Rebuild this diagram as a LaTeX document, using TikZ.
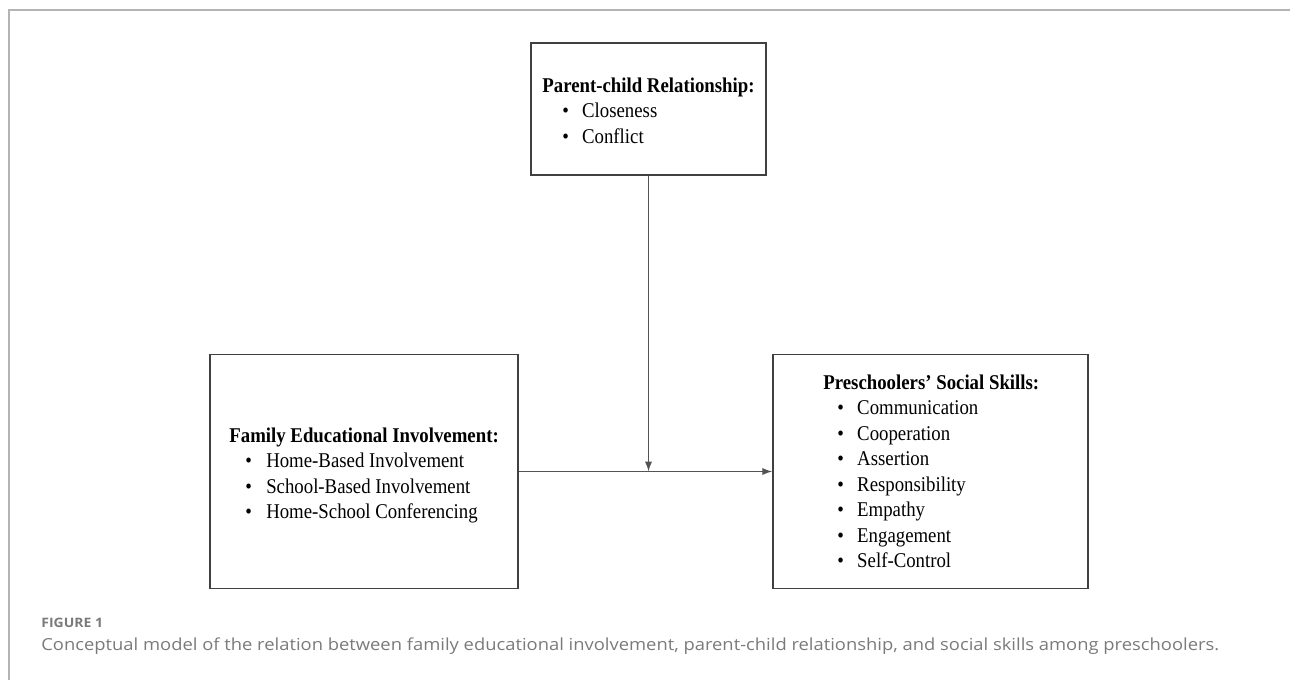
\documentclass[tikz,border=0pt]{standalone}
\usepackage{fontspec}
\setmainfont{Liberation Serif}
\newfontfamily\capfont{Open Sans}
\usetikzlibrary{arrows.meta}
\definecolor{framegray}{HTML}{B4B4B4}
\definecolor{boxgray}{HTML}{404040}
\definecolor{capgray}{HTML}{7A7A7A}
\newcommand{\bitem}[3]{\hbox{\hspace*{#1}\makebox[#2][l]{\textbullet}#3}}
\newcommand{\hsq}[1]{\scalebox{0.895}[1]{#1}}
\tikzset{
  box/.style={draw=boxgray, line width=0.75pt, inner sep=0pt, fill=white},
  txt/.style={anchor=base west, inner sep=0pt, font=\fontsize{10.5pt}{12.75pt}\selectfont},
  conn/.style={draw=boxgray!90, line width=0.6pt},
  arr/.style={-{Latex[length=5pt,width=3.6pt]}},
  frame/.style={draw=framegray, line width=1pt}
}
\begin{document}
\begin{tikzpicture}[x=0.5pt,y=-0.5pt]
\useasboundingbox (0,0) rectangle (1290,680);
% outer frame
\coordinate (ftl) at (9,10);
\coordinate (ftr) at (1290,10);
\coordinate (fbl) at (9,680);
\draw[frame] (fbl) -- (ftl) -- (ftr);
% boxes
\node[box, minimum width=117.5pt, minimum height=66pt] (pc) at (648.5,109) {};
\node[box, minimum width=154pt, minimum height=117pt] (fe) at (364,471.5) {};
\node[box, minimum width=157.5pt, minimum height=117pt] (ps) at (930.5,471.5) {};
% texts
\node[txt] (pct) at (542,92) {\hsq{\vtop{\hbox{\textbf{Parent-child Relationship:}}
  \bitem{11.1pt}{11.1pt}{Closeness}\bitem{11.1pt}{11.1pt}{Conflict}}}};
\node[txt] (fet) at (229,442) {\hsq{\vtop{\hbox{\textbf{Family Educational Involvement:}}
  \bitem{8.9pt}{11.7pt}{Home-Based Involvement}\bitem{8.9pt}{11.7pt}{School-Based Involvement}\bitem{8.9pt}{11.7pt}{Home-School Conferencing}}}};
\node[txt] (pst) at (823,389) {\hsq{\vtop{\hbox{\textbf{Preschoolers’ Social Skills:}}
  \bitem{7.8pt}{11.1pt}{Communication}\bitem{7.8pt}{11.1pt}{Cooperation}\bitem{7.8pt}{11.1pt}{Assertion}\bitem{7.8pt}{11.1pt}{Responsibility}\bitem{7.8pt}{11.1pt}{Empathy}\bitem{7.8pt}{11.1pt}{Engagement}\bitem{7.8pt}{11.1pt}{Self-Control}}}};
% connectors
\coordinate (m) at (pc.south |- fe.east);
\draw[conn, arr] (fe.east) -- (ps.west);
\draw[conn, arr] (pc.south) -- (m);
% caption
\node[anchor=base west, inner sep=0pt, text=capgray, font=\capfont\bfseries\fontsize{6.5pt}{7pt}\selectfont] (fig) at (41,627) {\scalebox{1.075}[1]{FIGURE 1}};
\node[anchor=base west, inner sep=0pt, text=capgray, font=\capfont\fontsize{8.3pt}{9pt}\selectfont] (cap) at (41,650) {\scalebox{1.107}[1]{Conceptual model of the relation between family educational involvement, parent-child relationship, and social skills among preschoolers.}};
\end{tikzpicture}
\end{document}
